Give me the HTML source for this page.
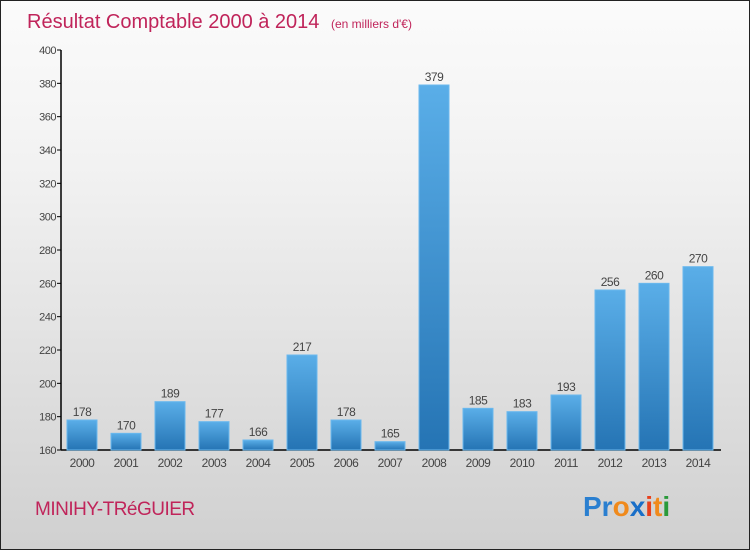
<!DOCTYPE html>
<html><head><meta charset="utf-8"><style>
body{margin:0;width:750px;height:550px;overflow:hidden}
#c{position:relative;width:748px;height:548px;border:1px solid #222;background:linear-gradient(#fbfbfb,#f2f2f2 30%,#d0d0d0);font-family:"Liberation Sans",sans-serif}
</style></head><body>
<div id="c">
<svg width="748" height="548">
<defs><linearGradient id="g" x1="0" y1="0" x2="0" y2="1"><stop offset="0" stop-color="#5aaee8"/><stop offset="1" stop-color="#2574b4"/></linearGradient></defs>
<text x="26" y="27" font-size="20" fill="#c0245a">Résultat Comptable 2000 à 2014 <tspan font-size="12" dx="6">(en milliers d'€)</tspan></text>
<g id="yax"></g>
<g id="bars"></g>
<text x="34" y="514" font-size="19" fill="#c0245a" letter-spacing="-0.5">MINIHY-TRéGUIER</text>
<text x="582" y="515" font-size="28" font-weight="bold"><tspan fill="#2a7fd0">Pr</tspan><tspan fill="#f08a1c">o</tspan><tspan fill="#1a6fc8">x</tspan><tspan fill="#e8401c">i</tspan><tspan fill="#f08a1c">t</tspan><tspan fill="#2a9a3a">i</tspan></text>
</svg></div>
<script>
const years=["2000","2001","2002","2003","2004","2005","2006","2007","2008","2009","2010","2011","2012","2013","2014"];
const values=[178,170,189,177,166,217,178,165,379,185,183,193,256,260,270];
const ticks=[160,180,200,220,240,260,280,300,320,340,360,380,400];
const NS="http://www.w3.org/2000/svg";
function y(v){return 449-(v-160)*(400/240);}
function x(i){return 81+i*44;}
function mk(t,a,p){const e=document.createElementNS(NS,t);for(const k in a)e.setAttribute(k,a[k]);p.appendChild(e);return e;}
const ya=document.getElementById('yax'),bg=document.getElementById('bars');
const ax=mk('line',{x1:60,y1:49,x2:60,y2:449,stroke:'#000','stroke-width':1.5},ya);


const bx=mk('line',{x1:60,y1:449,x2:720,y2:449,stroke:'#000','stroke-width':1.5},ya);


ticks.forEach(t=>{
 const l=mk('line',{x1:56,y1:y(t),x2:60,y2:y(t),stroke:'#000'},ya);
 
 
 const tx=mk('text',{x:55,y:y(t)+4,'font-size':11,fill:'#444','text-anchor':'end','letter-spacing':'-0.5'},ya);
 tx.textContent=t;
 
 
});
years.forEach((yr,i)=>{
 const v=values[i];
 const r=mk('rect',{x:x(i)-15,y:y(v),width:30,height:449-y(v),fill:'url(#g)',stroke:'#6ab8ee','stroke-width':1},bg);
 
 
 const vl=mk('text',{x:x(i),y:y(v)-4,'font-size':12,fill:'#444','text-anchor':'middle','letter-spacing':'-0.5'},bg);
 vl.textContent=v;
 
 
 const xl=mk('text',{x:x(i),y:466,'font-size':12,fill:'#444','text-anchor':'middle','letter-spacing':'-0.5'},bg);
 xl.textContent=yr;
 
 
});
</script>
</body></html>
